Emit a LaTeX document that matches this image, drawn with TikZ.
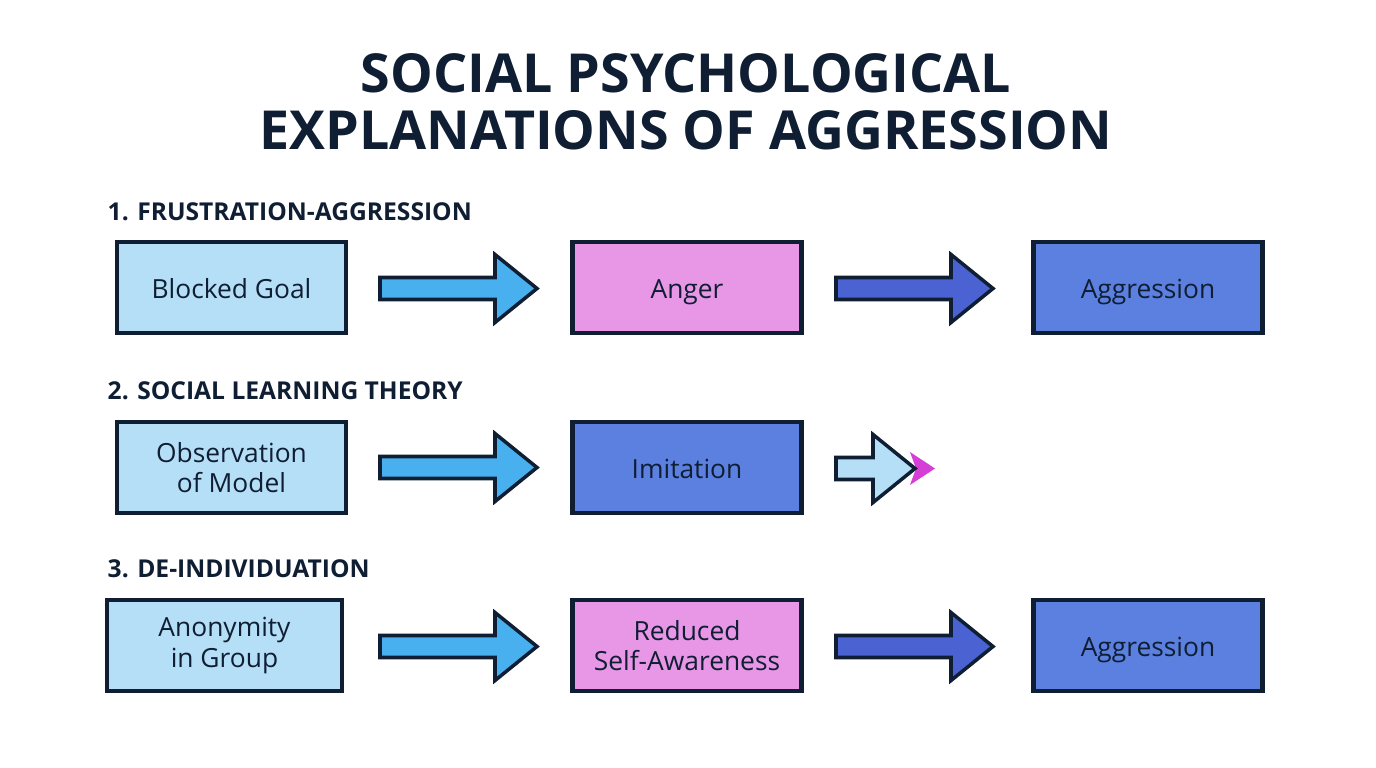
\documentclass[tikz,border=0pt]{standalone}
\usepackage{fontspec}
\setmainfont{Open Sans}
\usetikzlibrary{positioning}
\definecolor{inkc}{HTML}{0F1E33}
\definecolor{lightc}{HTML}{B5DFF7}
\definecolor{pinkc}{HTML}{E896E6}
\definecolor{bluec}{HTML}{5C80E0}
\definecolor{arrowa}{HTML}{48B0EE}
\definecolor{arrowb}{HTML}{4A62D2}
\definecolor{tipc}{HTML}{D63FD6}
% block arrow: start x, end x, mid y, fill
\newcommand\blockarrow[4]{%
  \draw[line width=1pt, draw=inkc, fill=#4, line join=miter]
    (#1,#3+0.11) -- (#2-0.42,#3+0.11) -- (#2-0.42,#3+0.34) -- (#2,#3)
    -- (#2-0.42,#3-0.34) -- (#2-0.42,#3-0.11) -- (#1,#3-0.11) -- cycle;}
\begin{document}
\begin{tikzpicture}[
  box/.style={draw=inkc, line width=1.2pt, minimum width=2.29cm, minimum height=0.91cm,
    align=center, font=\fontsize{7.5}{8.6}\selectfont, text=inkc, inner sep=0pt},
  one/.style={text height=1.55ex, text depth=0.4ex},
  head/.style={anchor=west, inner sep=0pt, font=\fontsize{7}{8}\selectfont\bfseries, text=inkc}]
\useasboundingbox (0,0) rectangle (13.76,-7.68);
\node[font=\fontsize{15.3}{16.2}\selectfont\bfseries, text=inkc, align=center] (title) at (6.86,-1.02)
  {SOCIAL PSYCHOLOGICAL\\EXPLANATIONS OF AGGRESSION};
% row 1
\node[head] (h1) at (1.07,-2.12) {1. FRUSTRATION-AGGRESSION};
\node[box, one, fill=lightc] (goal) at (2.315,-2.875) {Blocked Goal};
\node[box, one, fill=pinkc] (anger) at (6.87,-2.875) {Anger};
\node[box, one, fill=bluec] (aggr1) at (11.48,-2.875) {Aggression};
\blockarrow{3.80}{5.37}{-2.885}{arrowa}
\blockarrow{8.36}{9.93}{-2.885}{arrowb}
% row 2
\node[head] (h2) at (1.07,-3.91) {2. SOCIAL LEARNING THEORY};
\node[box, fill=lightc] (obs) at (2.315,-4.675) {Observation\\of Model};
\node[box, one, fill=bluec] (imit) at (6.87,-4.675) {Imitation};
\blockarrow{3.80}{5.37}{-4.675}{arrowa}
\fill[tipc] (9.10,-4.52) -- (9.35,-4.685) -- (9.10,-4.85) -- (9.16,-4.685) -- cycle;
\blockarrow{8.36}{9.15}{-4.685}{lightc}
% row 3
\node[head] (h3) at (1.07,-5.69) {3. DE-INDIVIDUATION};
\node[box, fill=lightc, minimum width=2.35cm] (anon) at (2.245,-6.455) {Anonymity\\in Group};
\node[box, fill=pinkc] (self) at (6.87,-6.455) {Reduced\\Self-Awareness};
\node[box, one, fill=bluec] (aggr3) at (11.48,-6.455) {Aggression};
\blockarrow{3.80}{5.37}{-6.465}{arrowa}
\blockarrow{8.36}{9.93}{-6.465}{arrowb}
\end{tikzpicture}
\end{document}
